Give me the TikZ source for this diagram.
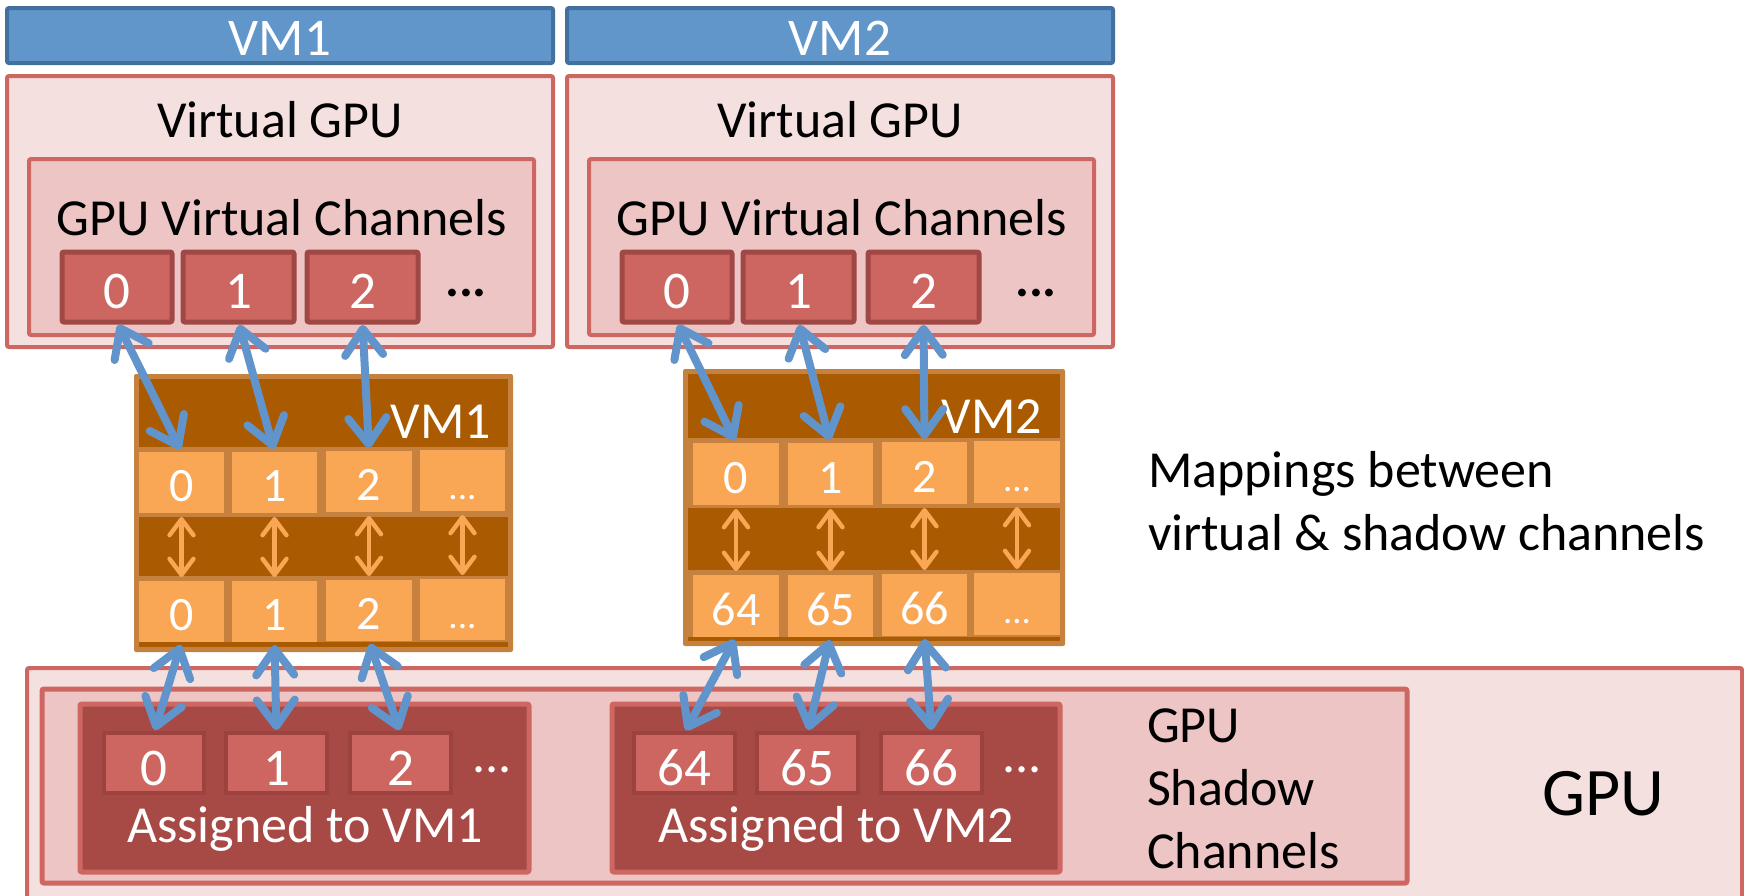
\documentclass[tikz,border=0pt]{standalone}
\usepackage{fontspec}
\setmainfont{Carlito}
\usetikzlibrary{arrows.meta}

\definecolor{vmfill}{RGB}{97,150,203}
\definecolor{vmline}{RGB}{66,113,158}
\definecolor{pinklight}{RGB}{244,224,223}
\definecolor{pinkmid}{RGB}{236,197,196}
\definecolor{redline}{RGB}{206,103,98}
\definecolor{chanfill}{RGB}{205,102,97}
\definecolor{chanline}{RGB}{160,72,68}
\definecolor{shadline}{RGB}{156,66,63}
\definecolor{assignfill}{RGB}{167,74,70}
\definecolor{mapdark}{RGB}{170,90,0}
\definecolor{mapmid}{RGB}{198,129,63}
\definecolor{maplight}{RGB}{249,166,85}
\definecolor{linkblue}{RGB}{96,148,202}

% rectangle node given by its corners: style, x1, y1, x2, y2, name, text
\newcommand\boxnode[7]{%
  \node[#1, minimum width={(#4-#2)*0.5pt}, minimum height={(#5-#3)*0.5pt}]
    (#6) at ({(#2+#4)/2},{(#3+#5)/2}) {#7};}

\tikzset{
  every node/.style={inner sep=0pt, outer sep=0pt},
  basebox/.style={rounded corners=1pt},
  vmbar/.style={basebox, draw=vmline, fill=vmfill, line width=2pt, text=white,
    font=\fontsize{26.5}{30}\selectfont, text height=19.5pt, text depth=0pt},
  vgpu/.style={basebox, draw=redline, fill=pinklight, line width=2pt},
  vchan/.style={basebox, draw=redline, fill=pinkmid, line width=2pt},
  chanbox/.style={basebox, draw=chanline, fill=chanfill, line width=2.5pt, text=white,
    font=\fontsize{26.5}{30}\selectfont, text height=21pt, text depth=0pt},
  mapouter/.style={basebox, fill=mapmid},
  mapcell/.style={fill=maplight, text=white,
    font=\fontsize{24}{28}\selectfont, text height=19pt, text depth=0pt},
  mapdots/.style={mapcell, font=\fontsize{18.5}{22}\selectfont},
  gpuouter/.style={basebox, draw=redline, fill=pinklight, line width=2pt},
  shadowbox/.style={basebox, draw=redline, fill=pinkmid, line width=2.5pt},
  assignbox/.style={basebox, draw=redline, fill=assignfill, line width=2.5pt},
  shadchan/.style={draw=shadline, fill=chanfill, line width=2pt, text=white,
    font=\fontsize{26.5}{30}\selectfont, text height=22pt, text depth=0pt},
  lbl/.style={anchor=base, font=\fontsize{26}{30}\selectfont},
  whitelbl/.style={lbl, text=white},
  sidelbl/.style={anchor=base west, font=\fontsize{26}{30}\selectfont},
  link/.style={draw=linkblue, line width=4pt, line cap=round,
    arrows={Straight Barb[round,length=13pt,width=19pt]-Straight Barb[round,length=13pt,width=19pt]},
    shorten <=1.5pt, shorten >=1.5pt},
  maplink/.style={draw=maplight, line width=2.2pt, line cap=round,
    arrows={Straight Barb[round,length=8pt,width=12pt]-Straight Barb[round,length=8pt,width=12pt]},
    shorten <=2pt, shorten >=2pt},
}

\begin{document}
\begin{tikzpicture}[x=0.5pt, y=-0.5pt]
\useasboundingbox (0,0) rectangle (1744,895);
\clip (0,0) rectangle (1744,895);

% ---------- virtual machines ----------
\boxnode{vmbar}{7}{8}{553}{63}{vmonebar}{VM1}
\boxnode{vmbar}{567}{8}{1113}{63}{vmtwobar}{VM2}

\boxnode{vgpu}{7}{76}{553}{347}{vgpuone}{}
\boxnode{vgpu}{567}{76}{1113}{347}{vgputwo}{}
\node[lbl] (vgpuonetxt) at (280,137) {Virtual GPU};
\node[lbl] (vgputwotxt) at (840,137) {Virtual GPU};

\boxnode{vchan}{29}{159}{534}{335}{vchone}{}
\boxnode{vchan}{589}{159}{1094}{335}{vchtwo}{}
\node[lbl] (vchonetxt) at (282,235) {GPU Virtual Channels};
\node[lbl] (vchtwotxt) at (842,235) {GPU Virtual Channels};

\boxnode{chanbox}{62}{252}{172}{322}{vc1a}{0}
\boxnode{chanbox}{183}{252}{294}{322}{vc1b}{1}
\boxnode{chanbox}{307}{252}{418}{322}{vc1c}{2}
\node[lbl, font=\bfseries\fontsize{26}{30}\selectfont] (vc1dots) at (466,296) {...};

\boxnode{chanbox}{622}{252}{732}{322}{vc2a}{0}
\boxnode{chanbox}{743}{252}{854}{322}{vc2b}{1}
\boxnode{chanbox}{868}{252}{979}{322}{vc2c}{2}
\node[lbl, font=\bfseries\fontsize{26}{30}\selectfont] (vc2dots) at (1036,296) {...};

% ---------- mapping tables ----------
\boxnode{mapouter}{134}{374}{513}{652}{mapone}{}
\fill[mapdark] (139,379) rectangle (508,447);
\fill[mapdark] (139,517) rectangle (508,576);
\fill[mapdark] (139,642) rectangle (508,647);
\boxnode{mapcell}{139}{452}{224}{513}{m1ta}{0}
\boxnode{mapcell}{232}{452}{317}{513}{m1tb}{1}
\boxnode{mapcell}{326}{451}{412}{512}{m1tc}{2}
\boxnode{mapdots}{420}{450}{505}{511}{m1td}{...}
\boxnode{mapcell}{139}{581}{224}{642}{m1ba}{0}
\boxnode{mapcell}{232}{581}{317}{642}{m1bb}{1}
\boxnode{mapcell}{326}{580}{412}{641}{m1bc}{2}
\boxnode{mapdots}{420}{579}{505}{640}{m1bd}{...}
\node[whitelbl, font=\fontsize{26}{30}\selectfont] (maponelbl) at (441,438) {VM1};

\boxnode{mapouter}{683}{369}{1065}{646}{maptwo}{}
\fill[mapdark] (688,374) rectangle (1060,438);
\fill[mapdark] (688,508) rectangle (1060,570);
\fill[mapdark] (688,637) rectangle (1060,641);
\boxnode{mapcell}{693}{443}{779}{505}{m2ta}{0}
\boxnode{mapcell}{788}{443}{873}{505}{m2tb}{1}
\boxnode{mapcell}{882}{442}{967}{504}{m2tc}{2}
\boxnode{mapdots}{974}{441}{1060}{503}{m2td}{...}
\boxnode{mapcell}{693}{575}{779}{637}{m2ba}{64}
\boxnode{mapcell}{788}{575}{873}{637}{m2bb}{65}
\boxnode{mapcell}{882}{574}{967}{636}{m2bc}{66}
\boxnode{mapdots}{974}{573}{1060}{635}{m2bd}{...}
\node[whitelbl, font=\fontsize{26}{30}\selectfont] (maptwolbl) at (992,433) {VM2};

\node[sidelbl] (mapnoteone) at (1148,487) {Mappings between};
\node[sidelbl] (mapnotetwo) at (1148,550) {virtual \& shadow channels};

% ---------- physical GPU ----------
\boxnode{gpuouter}{27}{668}{1742}{915}{gpu}{}
\boxnode{shadowbox}{42}{689}{1407}{883}{shadow}{}
\boxnode{assignbox}{80}{704}{529}{872}{asgone}{}
\boxnode{assignbox}{612}{704}{1060}{872}{asgtwo}{}

\boxnode{shadchan}{104}{733}{204}{793}{sc1a}{0}
\boxnode{shadchan}{226}{733}{327}{793}{sc1b}{1}
\boxnode{shadchan}{350}{733}{451}{793}{sc1c}{2}
\node[whitelbl] (sc1dots) at (492,772) {...};
\node[whitelbl] (asgonetxt) at (305,842) {Assigned to VM1};

\boxnode{shadchan}{634}{733}{735}{793}{sc2a}{64}
\boxnode{shadchan}{757}{733}{858}{793}{sc2b}{65}
\boxnode{shadchan}{881}{733}{982}{793}{sc2c}{66}
\node[whitelbl] (sc2dots) at (1022,772) {...};
\node[whitelbl] (asgtwotxt) at (836,842) {Assigned to VM2};

\node[sidelbl] (shadowtxta) at (1147,742) {GPU};
\node[sidelbl] (shadowtxtb) at (1147,805) {Shadow};
\node[sidelbl] (shadowtxtc) at (1147,868) {Channels};
\node[lbl, font=\fontsize{34}{40}\selectfont] (gputxt) at (1603,815) {GPU};

% ---------- connectors ----------
\draw[link] (vc1a.south) -- (m1ta.north);
\draw[link] (vc1b.south) -- (m1tb.north);
\draw[link] (vc1c.south) -- (m1tc.north);
\draw[link] (vc2a.south) -- (m2ta.north);
\draw[link] (vc2b.south) -- (m2tb.north);
\draw[link] (vc2c.south) -- (m2tc.north);

\draw[maplink] (m1ta.south) -- (m1ba.north);
\draw[maplink] (m1tb.south) -- (m1bb.north);
\draw[maplink] (m1tc.south) -- (m1bc.north);
\draw[maplink] (m1td.south) -- (m1bd.north);
\draw[maplink] (m2ta.south) -- (m2ba.north);
\draw[maplink] (m2tb.south) -- (m2bb.north);
\draw[maplink] (m2tc.south) -- (m2bc.north);
\draw[maplink] (m2td.south) -- (m2bd.north);

\draw[link] (m1ba.south) -- (sc1a.north);
\draw[link] (m1bb.south) -- (sc1b.north);
\draw[link] (m1bc.south) -- (sc1c.north);
\draw[link] (m2ba.south) -- (sc2a.north);
\draw[link] (m2bb.south) -- (sc2b.north);
\draw[link] (m2bc.south) -- (sc2c.north);
\end{tikzpicture}
\end{document}
